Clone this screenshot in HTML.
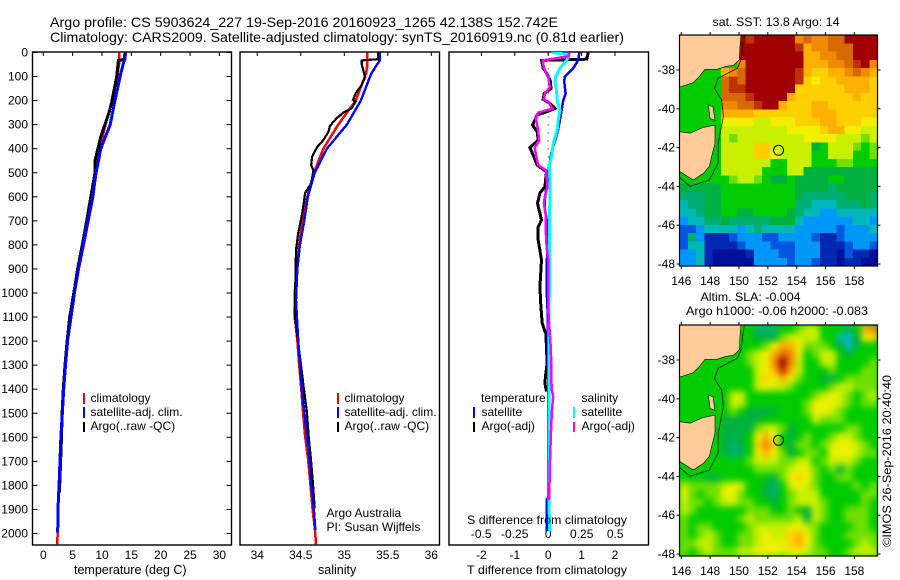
<!DOCTYPE html>
<html lang="en">
<head>
<meta charset="utf-8">
<title>Argo profile CS 5903624_227</title>
<style>
html,body{margin:0;padding:0;background:#fff;}
svg{display:block;}
text{font-family:"Liberation Sans",sans-serif;font-size:12px;fill:#000;}
.ttl{font-size:14px;}
.crisp{shape-rendering:crispEdges;}
</style>
</head>
<body>
<svg id="chart" xmlns="http://www.w3.org/2000/svg" width="900" height="580" viewBox="0 0 900 580">
<defs>
<clipPath id="clipT"><rect x="32" y="52" width="200" height="493"/></clipPath>
<clipPath id="clipS"><rect x="240" y="52" width="200" height="493"/></clipPath>
<clipPath id="clipD"><rect x="449" y="52" width="200" height="493"/></clipPath>
<clipPath id="clipM1"><rect x="679.5" y="35" width="198" height="231"/></clipPath>
<clipPath id="clipM2"><rect x="679.5" y="325" width="198" height="231"/></clipPath>
<filter id="smooth" x="-5%" y="-5%" width="110%" height="110%" color-interpolation-filters="sRGB"><feGaussianBlur stdDeviation="3.2"/></filter>
</defs>
<rect x="0" y="0" width="900" height="580" fill="#fff"/>
<text class="ttl" x="50" y="27" textLength="508" lengthAdjust="spacingAndGlyphs">Argo profile: CS 5903624_227 19-Sep-2016 20160923_1265 42.138S 152.742E</text>
<text class="ttl" x="50" y="42" textLength="574" lengthAdjust="spacingAndGlyphs">Climatology: CARS2009. Satellite-adjusted climatology: synTS_20160919.nc (0.81d earlier)</text>

<g id="gTemp"></g>
<g id="gSal"></g>
<g id="gDiff"></g>
<g id="gMap1"></g>
<g id="gMap2"></g>

<text x="74" y="574" style="font-size:12.5px">temperature (deg C)</text>
<text x="318" y="574" style="font-size:12.5px">salinity</text>
<text x="467" y="574" textLength="160" lengthAdjust="spacingAndGlyphs">T difference from climatology</text>
<text x="467" y="524" textLength="160" lengthAdjust="spacingAndGlyphs">S difference from climatology</text>

<g>
<rect x="83" y="393" width="2" height="11" fill="#f00"/>
<rect x="83" y="407" width="2" height="11" fill="#00f"/>
<rect x="83" y="422" width="2" height="10" fill="#000"/>
<text x="90.5" y="402">climatology</text>
<text x="90.5" y="416">satellite-adj. clim.</text>
<text x="90.5" y="430">Argo(..raw -QC)</text>
</g>
<g>
<rect x="337" y="393" width="2" height="11" fill="#f00"/>
<rect x="337" y="407" width="2" height="11" fill="#00f"/>
<rect x="337" y="422" width="2" height="10" fill="#000"/>
<text x="344.5" y="402">climatology</text>
<text x="344.5" y="416">satellite-adj. clim.</text>
<text x="344.5" y="430">Argo(..raw -QC)</text>
<text x="326.5" y="517">Argo Australia</text>
<text x="326.5" y="531">PI: Susan Wijffels</text>
</g>
<g>
<text x="481" y="402">temperature</text>
<rect x="473" y="407" width="2" height="11" fill="#00f"/>
<rect x="473" y="422" width="2" height="10" fill="#000"/>
<text x="481.5" y="416">satellite</text>
<text x="481.5" y="430">Argo(-adj)</text>
<text x="581.5" y="402">salinity</text>
<rect x="573" y="407" width="2" height="11" fill="#0ff"/>
<rect x="573" y="422" width="2" height="10" fill="#f0f"/>
<text x="581.5" y="416">satellite</text>
<text x="581.5" y="430">Argo(-adj)</text>
</g>

<text x="712.5" y="26" textLength="127" lengthAdjust="spacingAndGlyphs">sat. SST: 13.8 Argo: 14</text>
<text x="700.5" y="301" textLength="100" lengthAdjust="spacingAndGlyphs">Altim. SLA: -0.004</text>
<text x="686" y="315" textLength="182" lengthAdjust="spacingAndGlyphs">Argo h1000: -0.06 h2000: -0.083</text>
<text transform="translate(891 547) rotate(-90)" textLength="172" lengthAdjust="spacingAndGlyphs">©IMOS 26-Sep-2016 20:40:40</text>
</svg>

<script>
// ---- axis ticks ----
const depthTicks = [0,100,200,300,400,500,600,700,800,900,1000,1100,1200,1300,1400,1500,1600,1700,1800,1900,2000];
const tempTicks = [0,5,10,15,20,25,30];
const salTicks = [34,34.5,35,35.5,36];
const salTickLabels = ['34','34.5','35','35.5','36'];
const tDiffTicks = [-2,-1,0,1,2];
const sDiffTicks = [-0.5,-0.25,0,0.25,0.5];
const sDiffTickLabels = ['-0.5','-0.25','0','0.25','0.5'];
const lonTicks = [146,148,150,152,154,156,158];
const latTicks = [38,40,42,44,46,48];

// ---- temperature profiles ----
const tempClimDepth = [0,50,100,200,300,400,500,600,700,800,900,1000,1100,1200,1300,1400,1500,1600,1700,1800,1900,2000,2045];
const tempClim = [12.9,12.9,12.6,11.7,10.6,9.6,9.0,8.5,7.7,6.9,6.05,5.35,4.65,4.15,3.8,3.5,3.25,3.0,2.85,2.7,2.5,2.45,2.35];
const tempArgoDepth = [0,28,33,100,200,250,300,350,400,450,500,600,700,800,900,1000,1100,1200,1300,1400,1500,1600,1700,1830];
const tempArgo = [14,13.9,12.8,12.5,11.7,11.2,10.5,9.8,9.3,8.8,8.8,8.1,7.4,6.65,5.85,5.2,4.5,4.05,3.7,3.4,3.2,3.1,2.95,2.75];
const tempSatDepth = [0,30,87,200,300,400,500,600,700,800,900,1000,1060,1195,1295,1395,1495,1595,1695,1795,1895,1995];
const tempSat = [13.9,13.8,13.2,12.2,11.4,9.8,9.0,8.4,7.6,6.8,6.0,5.3,4.95,4.15,3.8,3.5,3.25,3.0,2.85,2.7,2.5,2.45];

// ---- salinity profiles ----
const salClimDepth = [0,50,87,200,300,400,500,600,700,800,900,1000,1100,1195,1295,1395,1495,1595,1695,1795,1895,1995,2045];
const salClim = [35.265,35.265,35.25,35.13,34.93,34.76,34.65,34.575,34.52,34.48,34.45,34.43,34.43,34.46,34.48,34.505,34.525,34.55,34.585,34.61,34.635,34.665,34.675];
const salArgoDepth = [0,28,33,50,75,103,135,170,197,204,232,250,274,305,329,364,392,433,468,491,544,584,668,751,821,1090,1395,1495,1595,1695,1795,1895];
const salArgo = [35.39,35.39,35.2,35.2,35.22,35.24,35.2,35.13,35.1,35.13,35.085,34.99,34.91,34.835,34.82,34.76,34.69,34.63,34.62,34.645,34.62,34.55,34.517,34.47,34.445,34.43,34.535,34.57,34.59,34.617,34.64,34.66];
const salSatDepth = [0,31,87,200,300,400,500,600,700,800,900,1030,1195,1295,1395,1495,1595,1695,1795,1895,1985];
const salSat = [35.41,35.41,35.31,35.19,35.03,34.80,34.66,34.58,34.54,34.49,34.46,34.445,34.47,34.49,34.51,34.54,34.57,34.6,34.617,34.65,34.667];

// ---- difference profiles ----
const dTSatDepth = [0,31,65,100,120,170,200,265,320,360,415,470,555,610,650,710,805,875,970,1065,1400,1850,1860,1990];
const dTSat = [0.93,0.9,0.75,0.5,0.48,0.52,0.45,0.37,0.3,0.22,0.1,0.03,-0.05,-0.1,-0.1,-0.03,0,-0.05,-0.05,-0.02,0,0,-0.05,-0.05];
const dTArgoDepth = [0,28,33,65,85,120,150,170,195,212,233,247,260,302,330,365,395,427,468,496,558,585,627,669,697,725,780,822,863,974,1057,1125,1170,1235,1290,1345,1375,1410];
const dTArgo = [1.2,1.15,-0.2,-0.15,-0.05,0.07,0.08,-0.12,-0.15,0.05,0.2,-0.05,-0.33,-0.47,-0.33,-0.3,-0.55,-0.45,-0.33,-0.05,-0.1,-0.25,-0.32,-0.25,-0.2,-0.3,-0.3,-0.25,-0.2,-0.25,-0.22,-0.18,-0.07,-0.05,-0.03,-0.08,-0.1,-0.05];
const dSSatDepth = [0,8,20,33,65,100,120,155,200,240,280,320,380,435,470,530,1065,1400,1990];
const dSSat = [0.025,0.15,0.15,0.137,0.087,0.057,0.05,0.062,0.067,0.087,0.075,0.067,0.037,0.025,0.0075,0.0125,0.0075,0.005,0.008];
const dSArgoDepth = [0,16,33,65,100,120,145,170,195,205,233,250,275,310,365,395,427,468,490,558,600,627,669,725,805,863,1065,1170,1235,1400,1430,1485,1560,1720,1860];
const dSArgo = [0.16,0.15,-0.042,-0.032,0,0.005,0.012,-0.025,-0.032,0,0.032,-0.075,-0.092,-0.08,-0.067,-0.1,-0.092,-0.075,-0.017,-0.005,-0.025,-0.032,-0.02,-0.02,-0.012,0,0,0.012,0.02,0.025,0.037,0.028,0.022,0.012,0.0075];

// ---- map cell levels (a = coldest/lowest ... q = warmest/highest) ----
const mapLevels = 'abcdefghijklmnopq';
const mapPalette = ['#001098','#0028b0','#0058e0','#0098f8','#00b8b8','#00b070','#00b040','#00cc00','#70e000','#c8f000','#f0f000','#ffd000','#ffb000','#f08800','#d86800','#c03000','#a00000'];
const sstRows = [
'hhhhhhhqpqqqqqnonnooqqqq','hhhhhhhqqqqqqqpmnnoooqqq','hhhhhhhqqqqqqqqmmnnooqqq','hhhhhhhnqqqqqqqmmmnnopqn',
'hhhhhmnoqqqqqqpmllmmnonm','hhhhhopoqqqqqqplkllmmmml','hhhhhoppqqqqqqllllllmmml','hhhhhooopqqqqmlllllllmll',
'hhhhhnnoopqqmlllmmllllll','hhhhhmmmmlllllllmmmlllll','hhhhhkkkkjjkkklllmmlllkk','hhhhhjjjjjjjjkkkklmmkkjj',
'hhhhhjijjjjjjjjkkkkjjjij','hhhhhjjjjlljjjjjghjjjihi','hhhhhjjjjllkjjjjhhjjjhhi','hhhhhjjjjjjhhjjjhhhiihhh',
'hhhhhjjjjjhhhjjggggggggg','hhhhhhijjihgghgggghhgggg','ggggghhhhhhhhhggggfggggg','fffgghhhhhhhhhgfffffgggf',
'effgghhhhhhhhhffeeefffgf','eefgghhgghhhhgfeeddeeeee','deeffgfffffgggeddddddeed','ccdeeeedefeeeedddddcddde',
'cfdbbbcdddccddddcbbcdddd','ceebbbbcdddcccdddbbbcddc','ddebaaaabdddccdddbbacbba','ddebaaaaaddddcddcbbabbaa'];
const slaRows = [
'hhhhhhhhhfffhhijjhhhfhmn','hhhhhhhhhgggijjjjhheegkl','hhhhhhhhhhikmmkiiihgeghh','hhhhhhhhijkmonkhijjhghhh',
'hhhhhhhhijknqnjhhjjhhhhi','hhhhhhhhhjkmpmjhhhihhhii','hhhhhhhhhjlkmkihhgghiiii','hhhhhhhhhjkjjihhhhijjiii',
'hhhhhhjjhhhhhhhhijkjihij','hhhhhhjjhhhhhhhikkkjihii','hhhhhhihgggghhhikkjihhhh','hhhhhggggghhhhhhjiiihhhh',
'hhhhhggggijjighhhhhhiihh','hhhhhggghkmkhghihhijjihh','hhhhhgfghlnlhgiihijkkjih','hhhhhgffhkmkighiihkkkjii',
'hhhhhhhhijjjiijjhijjjihh','hhhhhhhhhiiiijkkihigihhh','hhhgghhhhhhgiklkihhiihhh','jiiiijkjhhgfhjkjihhhhihi',
'kihiikkihhgfhijjjhhhhhii','jiihijjiihhghijjjihhhhih','jihhhhhhiiihhihgjihhiiih','ihhhhhhijiiiiijgjihhiiih',
'ihiihhhhijjjjkkjihhhhiih','ihijihhiijkjjlmkihhhiiii','iijjihhiijkkklmkihhhhiji','ihijiiijjkkkjkkjiihhijjj'];

// ---- map geography (lon, lat) and float position ----
const mainlandLon = [145.86,150.14,150.07,150.02,149.65,149.03,148.45,147.64,147.25,146.83,145.86];
const mainlandLat = [36.2,36.2,36.8,37.48,37.74,37.83,37.97,37.97,38.34,38.65,38.89];
const tasmaniaLon = [145.86,146.6,147.53,148.34,148.34,148.1,147.94,147.53,146.83,145.91,145.86];
const tasmaniaLat = [41.18,41.26,40.96,40.84,41.78,42.47,42.98,43.33,43.67,43.24,43.24];
const flindersLon = [147.87,148.2,148.34,148.0];
const flindersLat = [39.8,39.9,40.6,40.5];
const isobathLon = [150.37,150.14,149.9,148.55,148.3,148.8,148.92,148.55,148.55,147.94,146.6,145.91];
const isobathLat = [36.2,37.48,37.9,38.43,38.95,39.55,40.4,41.78,42.8,43.67,44.0,43.55];
const floatLon = 152.742;
const floatLat = 42.138;

// ---- axis functions ----
const NS = 'http://www.w3.org/2000/svg';
const depthY = d => 52.5 + d * 0.2405;
const tempX = t => 43.3 + t * 5.87;
const salX = s => 257.3 + (s - 34) * 87;
const tDiffX = v => 548.2 + v * 33.4;
const sDiffX = v => 548.2 + v * 134;
const lonX = lon => 681.3 + (lon - 146) * 14.42;
const latY = (lat, y38) => y38 + (lat - 38) * 19.4;

function make(parent, tag, attrs, txt) {
  const el = document.createElementNS(NS, tag);
  for (const k in attrs) el.setAttribute(k, attrs[k]);
  if (txt !== undefined) el.textContent = txt;
  parent.appendChild(el);
  return el;
}
function profilePoints(values, depths, xf) {
  return values.map((v, i) => xf(v).toFixed(1) + ',' + depthY(depths[i]).toFixed(1)).join(' ');
}
function drawProfile(parent, name, values, depths, xf, color, width, clip) {
  const el = make(parent, 'polyline', {points: profilePoints(values, depths, xf), fill: 'none', stroke: color, 'stroke-width': width, 'clip-path': 'url(#' + clip + ')', class: 'crisp'});
  
  
}
function drawFrame(parent, x0, x1) {
  const el = make(parent, 'rect', {x: x0, y: 52, width: x1 - x0, height: 493, fill: 'none', stroke: '#000', 'stroke-width': 1.4});
  
  
}
function drawTopTicks(parent, ticks, xf) {
  ticks.forEach(t => {
    const el = make(parent, 'line', {x1: xf(t), x2: xf(t), y1: 52, y2: 56, stroke: '#000', 'stroke-width': 1});
    
    
  });
}
function drawXLabels(parent, ticks, labels, xf, y) {
  ticks.forEach((t, i) => {
    const el = make(parent, 'text', {x: xf(t), y: y, 'text-anchor': 'middle'}, labels[i]);
    
    
  });
}

// ---- temperature panel ----
const gT = document.getElementById('gTemp');
drawFrame(gT, 32.5, 231.5);
depthTicks.forEach(d => {
  const a = make(gT, 'line', {x1: 32.5, x2: 37.5, y1: depthY(d), y2: depthY(d), stroke: '#000', 'stroke-width': 1});
  
  
  const b = make(gT, 'line', {x1: 226.5, x2: 231.5, y1: depthY(d), y2: depthY(d), stroke: '#000', 'stroke-width': 1});
  
  
  const c = make(gT, 'text', {x: 28, y: depthY(d) + 4, 'text-anchor': 'end'}, String(d));
  
  
});
drawTopTicks(gT, tempTicks, tempX);
drawXLabels(gT, tempTicks, tempTicks.map(String), tempX, 559);
drawProfile(gT, 'temperature-climatology-line', tempClim, tempClimDepth, tempX, '#f00', 2.5, 'clipT');
drawProfile(gT, 'temperature-argo-line', tempArgo, tempArgoDepth, tempX, '#000', 3, 'clipT');
drawProfile(gT, 'temperature-satellite-line', tempSat, tempSatDepth, tempX, '#00f', 3, 'clipT');

// ---- salinity panel ----
const gS = document.getElementById('gSal');
drawFrame(gS, 240, 439.5);
drawTopTicks(gS, salTicks, salX);
drawXLabels(gS, salTicks, salTickLabels, salX, 559);
drawProfile(gS, 'salinity-climatology-line', salClim, salClimDepth, salX, '#f00', 2.5, 'clipS');
drawProfile(gS, 'salinity-argo-line', salArgo, salArgoDepth, salX, '#000', 2.2, 'clipS');
drawProfile(gS, 'salinity-satellite-line', salSat, salSatDepth, salX, '#00f', 2.4, 'clipS');

// ---- difference panel ----
const gD = document.getElementById('gDiff');
drawFrame(gD, 449, 648.5);
drawTopTicks(gD, tDiffTicks, tDiffX);
drawXLabels(gD, tDiffTicks, tDiffTicks.map(String), tDiffX, 559);
drawXLabels(gD, sDiffTicks, sDiffTickLabels, sDiffX, 538);
const zero = make(gD, 'line', {x1: tDiffX(0), x2: tDiffX(0), y1: depthY(0), y2: depthY(500), stroke: '#000', 'stroke-width': 1, 'stroke-dasharray': '1 7'});


drawProfile(gD, 't-difference-argo-line', dTArgo, dTArgoDepth, tDiffX, '#000', 3, 'clipD');
drawProfile(gD, 't-difference-satellite-line', dTSat, dTSatDepth, tDiffX, '#00f', 2.5, 'clipD');
drawProfile(gD, 's-difference-satellite-line', dSSat, dSSatDepth, sDiffX, '#0ff', 3, 'clipD');
drawProfile(gD, 's-difference-argo-line', dSArgo, dSArgoDepth, sDiffX, '#f0f', 2.5, 'clipD');

// ---- maps ----
function geoPoints(lons, lats, y38) {
  return lons.map((lon, i) => lonX(lon).toFixed(1) + ',' + latY(lats[i], y38).toFixed(1)).join(' ');
}
function drawMap(group, rows, top, y38, clipId, smooth) {
  const left = 679.5, w = 198, h = 231;
  const clipG = make(group, 'g', {'clip-path': 'url(#' + clipId + ')'});
  
  
  const base = make(clipG, 'rect', {x: left, y: top, width: w, height: h, fill: '#00cc00'});
  
  
  const cells = make(clipG, 'g', smooth ? {filter: 'url(#smooth)'} : {class: 'crisp'});
  
  
  const cw = w / rows[0].length, ch = h / rows.length;
  rows.forEach((row, r) => {
    row.split('').forEach((c, col) => {
      const cell = make(cells, 'rect', {x: (left + col * cw).toFixed(2), y: (top + r * ch).toFixed(2), width: (cw + 0.4).toFixed(2), height: (ch + 0.4).toFixed(2), fill: mapPalette[mapLevels.indexOf(c)]});
      
      
    });
  });
  const land1 = make(clipG, 'polygon', {points: geoPoints(mainlandLon, mainlandLat, y38), fill: '#ffcc99', stroke: '#000', 'stroke-width': 0.6});
  
  
  const land2 = make(clipG, 'polygon', {points: geoPoints(tasmaniaLon, tasmaniaLat, y38), fill: '#ffcc99', stroke: '#000', 'stroke-width': 0.6});
  
  
  const land3 = make(clipG, 'polygon', {points: geoPoints(flindersLon, flindersLat, y38), fill: '#ffcc99', stroke: '#000', 'stroke-width': 0.6});
  
  
  const iso = make(clipG, 'polyline', {points: geoPoints(isobathLon, isobathLat, y38), fill: 'none', stroke: '#000', 'stroke-width': 0.7});
  
  
  const frame = make(group, 'rect', {x: left, y: top, width: w, height: h, fill: 'none', stroke: '#000', 'stroke-width': 1.2});
  
  
  const dot = make(group, 'circle', {cx: lonX(floatLon), cy: latY(floatLat, y38), r: 5, fill: 'none', stroke: '#000', 'stroke-width': 1});
  
  
  lonTicks.forEach(lon => {
    const a = make(group, 'line', {x1: lonX(lon), x2: lonX(lon), y1: top - 3, y2: top, stroke: '#000', 'stroke-width': 1});
    
    
    const b = make(group, 'line', {x1: lonX(lon), x2: lonX(lon), y1: top + h, y2: top + h + 3, stroke: '#000', 'stroke-width': 1});
    
    
    const l = make(group, 'text', {x: lonX(lon), y: top + h + 19, 'text-anchor': 'middle'}, String(lon));
    
    
  });
  latTicks.forEach(lat => {
    const y = latY(lat, y38);
    const a = make(group, 'line', {x1: left - 3, x2: left, y1: y, y2: y, stroke: '#000', 'stroke-width': 1});
    
    
    const b = make(group, 'line', {x1: left + w, x2: left + w + 3, y1: y, y2: y, stroke: '#000', 'stroke-width': 1});
    
    
    const l = make(group, 'text', {x: 675, y: y + 4, 'text-anchor': 'end'}, '-' + lat);
    
    
  });
}
drawMap(document.getElementById('gMap1'), sstRows, 35, 70, 'clipM1', false);
drawMap(document.getElementById('gMap2'), slaRows, 325, 360, 'clipM2', true);
</script>
</body>
</html>
